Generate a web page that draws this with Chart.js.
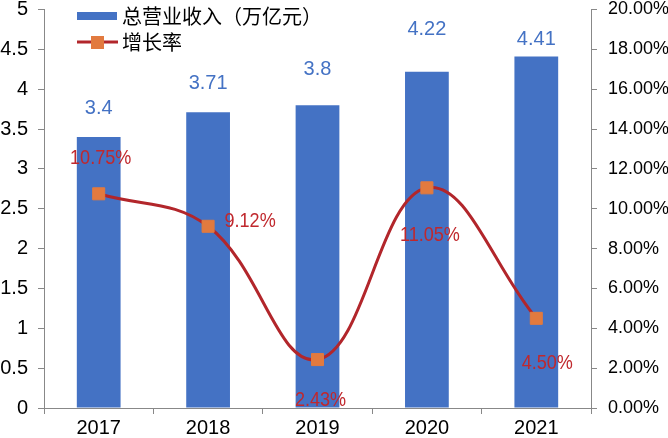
<!DOCTYPE html>
<html>
<head>
<meta charset="utf-8">
<script src="https://cdn.jsdelivr.net/npm/chart.js@4/dist/chart.umd.min.js"></script>
<style>
html,body{margin:0;padding:0;background:#fff;}
#wrap{width:668px;height:438px;position:relative;}
</style>
</head>
<body>
<div id="wrap"><canvas id="c"></canvas></div>
<script>
const categories = ['2017', '2018', '2019', '2020', '2021'];
const revenue = [3.4, 3.71, 3.8, 4.22, 4.41];
const growth = [10.75, 9.12, 2.43, 11.05, 4.50];
const revenueName = '总营业收入（万亿元）';
const growthName = '增长率';
const leftTicks = [0, 0.5, 1, 1.5, 2, 2.5, 3, 3.5, 4, 4.5, 5];
const rightTicks = [0, 2, 4, 6, 8, 10, 12, 14, 16, 18, 20];

const BLUE = '#4472C4';
const RED = '#B2262B';
const LABEL_RED = '#C0282D';
const ORANGE = '#E27A3F';
const AXIS = '#888888';

// label offsets (style only)
const barLabelDy = [-29, -29, -36, -42, -17];
const lineLabelOff = [[2, -36], [42, -5], [3, 41], [3, 47], [11, 45]];

const labelPlugin = {
  id: 'labels',
  afterDatasetsDraw(chart) {
    const ctx = chart.ctx;
    ctx.save();
    ctx.textAlign = 'center';
    ctx.textBaseline = 'middle';
    const barMeta = chart.getDatasetMeta(1);
    ctx.font = '20px "Liberation Sans", Arial, sans-serif';
    ctx.fillStyle = BLUE;
    barMeta.data.forEach((el, i) => {
      ctx.fillText(String(revenue[i]), el.x, el.y + barLabelDy[i]);
    });
    const lineMeta = chart.getDatasetMeta(0);
    ctx.fillStyle = LABEL_RED;
    lineMeta.data.forEach((el, i) => {
      const [dx, dy] = lineLabelOff[i];
      ctx.save();
      ctx.translate(el.x + dx, el.y + dy);
      ctx.scale(0.86, 1);
      ctx.font = '21px "Liberation Sans", Arial, sans-serif';
      ctx.fillText(growth[i].toFixed(2) + '%', 0, 0);
      ctx.restore();
    });
    ctx.restore();
  },
  afterDraw(chart) {
    const ctx = chart.ctx;
    ctx.save();
    ctx.fillStyle = BLUE;
    ctx.fillRect(77, 12, 40, 8);
    ctx.font = '20px "Noto Sans CJK SC", sans-serif';
    ctx.fillStyle = '#000';
    ctx.textBaseline = 'middle';
    ctx.textAlign = 'left';
    ctx.fillText(revenueName, 122, 16);
    ctx.strokeStyle = RED;
    ctx.lineWidth = 3;
    ctx.beginPath();
    ctx.moveTo(77, 42);
    ctx.lineTo(118, 42);
    ctx.stroke();
    ctx.fillStyle = ORANGE;
    ctx.fillRect(91, 36, 13, 13);
    ctx.fillStyle = '#000';
    ctx.fillText(growthName, 122, 42);
    ctx.restore();
  }
};

function fixV(w) {
  return function (scale) {
    scale.width = w;
    scale.paddingTop = 0;
    scale.paddingBottom = 0;
  };
}

new Chart(document.getElementById('c'), {
  data: {
    labels: categories,
    datasets: [
      {
        type: 'line',
        label: growthName,
        data: growth,
        yAxisID: 'y1',
        borderColor: RED,
        borderWidth: 3,
        tension: 0.4,
        pointStyle: 'rect',
        pointRadius: 8.5,
        pointBorderWidth: 1,
        pointBackgroundColor: ORANGE,
        pointBorderColor: ORANGE,
        order: 0
      },
      {
        type: 'bar',
        label: revenueName,
        data: revenue,
        yAxisID: 'y',
        backgroundColor: BLUE,
        barPercentage: 0.4,
        categoryPercentage: 1.0,
        order: 1
      }
    ]
  },
  options: {
    responsive: true,
    maintainAspectRatio: false,
    animation: false,
    layout: { padding: { left: 0, right: 0, top: 7, bottom: 0 } },
    plugins: { legend: { display: false }, tooltip: { enabled: false } },
    scales: {
      x: {
        offset: true,
        afterFit(scale) { scale.height = 30; scale.paddingLeft = 0; scale.paddingRight = 0; },
        grid: { display: true, drawOnChartArea: false, offset: true, color: AXIS, tickLength: 6 },
        border: { display: true, color: AXIS, width: 1 },
        ticks: { color: '#000', font: { family: '"Liberation Sans", Arial, sans-serif', size: 20, lineHeight: 1.0 }, padding: 4 }
      },
      y: {
        position: 'left',
        min: 0, max: 5,
        afterBuildTicks(scale) { scale.ticks = leftTicks.map(v => ({ value: v })); },
        afterFit: fixV(44),
        grid: { display: true, drawOnChartArea: false, color: AXIS, tickLength: 6 },
        border: { display: true, color: AXIS, width: 1 },
        ticks: {
          color: '#000', padding: 10,
          font: { family: '"Liberation Sans", Arial, sans-serif', size: 20, lineHeight: 1.0 },
          callback: v => String(v)
        }
      },
      y1: {
        position: 'right',
        min: 0, max: 20,
        afterBuildTicks(scale) { scale.ticks = rightTicks.map(v => ({ value: v })); },
        afterFit: fixV(77),
        grid: { display: true, drawOnChartArea: false, color: AXIS, tickLength: 6 },
        border: { display: true, color: AXIS, width: 1 },
        ticks: {
          color: '#000', padding: 11,
          font: { family: '"Liberation Sans", Arial, sans-serif', size: 18, lineHeight: 1.0 },
          callback: v => Number(v).toFixed(2) + '%'
        }
      }
    }
  },
  plugins: [labelPlugin]
});
</script>
</body>
</html>
